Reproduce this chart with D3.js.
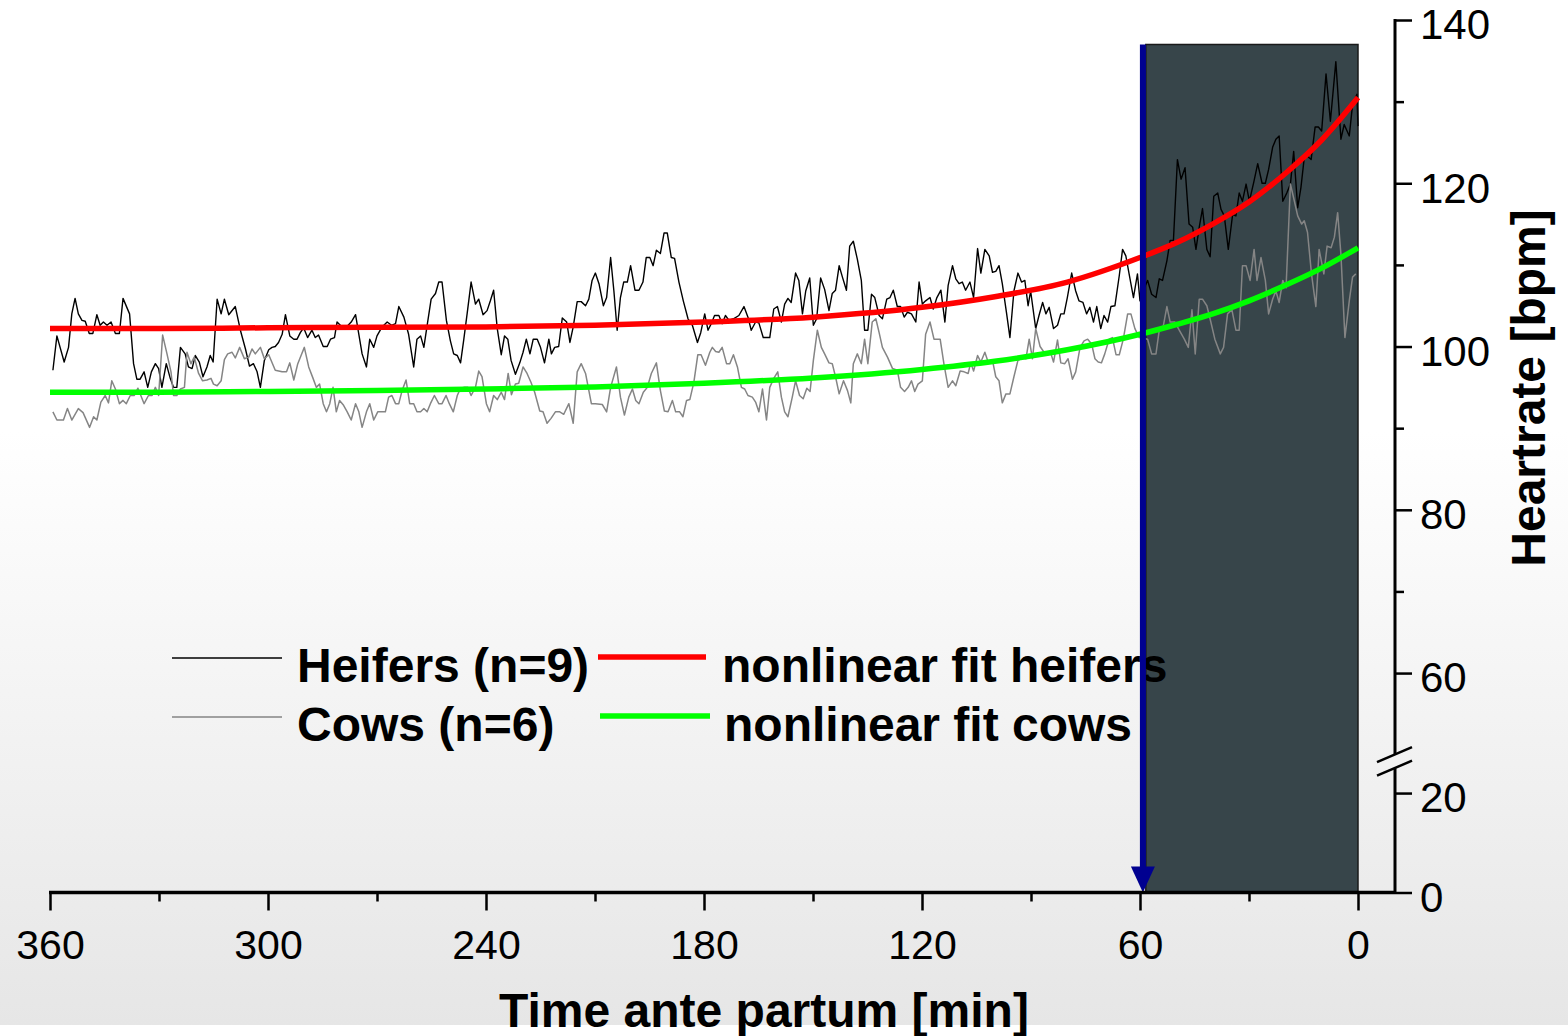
<!DOCTYPE html>
<html><head><meta charset="utf-8">
<script src="https://cdn.jsdelivr.net/npm/d3@7"></script>
<style>body{margin:0;background:#fff}svg{display:block}</style>
</head><body>
<svg id="c" width="1568" height="1036"></svg>
<script>
// ---- data: [minutes ante partum, heart rate bpm] ----
const heifers = [[359.2,97.1],[358.1,101.3],[356.1,98.1],[354.9,99.9],[354.0,104.0],[353.1,105.9],[352.2,104.0],[351.2,103.2],[350.3,103.1],[349.2,101.6],[348.2,101.6],[347.1,103.9],[346.2,102.6],[345.3,103.0],[344.3,102.6],[343.2,103.0],[342.0,101.6],[340.9,101.6],[339.9,105.9],[338.1,104.0],[337.0,97.9],[336.1,96.0],[335.2,96.0],[334.1,96.9],[333.1,95.0],[332.1,96.9],[331.0,97.9],[330.1,97.3],[329.2,95.0],[328.0,97.9],[326.9,96.1],[326.0,95.0],[325.1,95.0],[324.1,99.9],[322.8,99.1],[321.9,97.5],[320.9,97.3],[320.0,98.9],[318.9,98.1],[317.9,96.3],[316.8,97.5],[315.9,98.9],[315.1,98.1],[314.0,105.8],[312.9,104.0],[312.0,105.8],[310.8,103.9],[309.0,104.9],[307.6,102.0],[306.2,99.7],[305.1,97.6],[304.0,97.9],[303.0,96.9],[302.1,95.0],[301.0,98.3],[299.8,99.6],[298.9,99.9],[298.0,100.0],[297.1,100.5],[296.1,101.5],[295.2,103.9],[294.0,101.3],[292.9,100.9],[292.0,100.9],[291.1,101.7],[290.2,102.3],[289.1,101.1],[287.9,102.0],[287.0,101.1],[286.1,101.4],[284.8,100.0],[283.7,100.0],[282.8,100.9],[281.7,101.1],[281.0,103.0],[279.6,102.4],[278.4,102.4],[277.1,103.0],[275.9,103.9],[275.0,101.5],[274.1,99.1],[272.9,97.5],[272.0,100.9],[270.9,99.9],[270.0,101.3],[268.6,102.4],[267.2,103.0],[266.0,102.6],[264.9,102.8],[264.0,104.9],[262.6,103.6],[261.3,101.5],[259.9,97.5],[259.0,100.9],[258.0,101.3],[257.1,99.9],[256.2,102.6],[255.1,105.8],[253.9,106.5],[253.0,107.9],[252.1,107.9],[250.9,103.2],[249.8,100.7],[248.9,99.1],[247.9,98.9],[247.0,98.0],[246.1,100.9],[245.2,104.0],[244.1,107.9],[242.9,105.2],[242.0,105.8],[240.8,103.9],[239.7,104.4],[238.8,105.6],[237.9,106.9],[236.9,102.2],[235.8,99.0],[234.9,101.3],[234.0,100.9],[233.1,98.3],[231.9,96.6],[230.7,98.0],[229.8,99.3],[228.9,100.9],[227.9,99.1],[227.0,100.9],[225.9,100.9],[225.0,99.9],[223.9,98.0],[222.7,100.9],[222.0,99.1],[221.1,99.9],[220.0,100.0],[219.0,103.5],[217.8,103.0],[216.9,100.5],[216.0,102.4],[214.9,105.5],[213.8,105.5],[212.6,105.0],[211.7,105.8],[210.8,108.1],[209.9,109.0],[208.9,107.7],[207.7,105.0],[206.8,106.0],[205.7,110.9],[204.8,106.8],[203.9,102.0],[203.0,106.0],[202.1,107.9],[201.1,107.9],[200.2,109.9],[199.0,106.9],[197.9,106.9],[196.8,107.9],[195.9,110.9],[194.9,110.9],[194.0,109.9],[193.1,111.8],[192.0,111.4],[191.0,113.9],[190.1,113.9],[189.0,110.9],[188.1,110.8],[186.9,107.9],[185.7,105.6],[184.4,103.4],[183.2,102.6],[181.8,100.5],[180.9,101.7],[179.8,104.0],[178.9,102.0],[178.0,102.8],[177.1,103.8],[175.9,103.8],[175.0,102.8],[174.1,103.8],[173.1,103.2],[171.9,103.4],[170.4,103.8],[169.0,104.9],[167.9,103.6],[167.0,102.0],[165.8,103.0],[164.9,102.9],[163.7,101.1],[162.8,101.1],[161.9,101.1],[160.8,104.6],[159.8,104.9],[158.7,103.0],[157.8,105.2],[156.9,105.9],[156.0,105.4],[154.8,109.0],[153.9,108.1],[152.9,104.0],[152.0,106.8],[150.9,108.4],[149.9,102.6],[149.0,103.4],[147.9,108.4],[146.8,107.0],[145.6,104.4],[144.7,106.5],[143.8,106.9],[142.8,109.9],[141.9,108.5],[140.8,106.9],[139.9,112.3],[138.9,112.9],[137.8,110.7],[136.7,108.1],[135.8,102.0],[134.9,102.0],[133.9,106.4],[133.0,106.0],[131.8,103.8],[130.9,103.4],[129.7,105.8],[128.8,106.0],[127.9,106.9],[126.8,104.9],[125.9,104.9],[124.9,103.6],[124.0,104.2],[122.9,104.0],[121.7,103.0],[120.8,107.9],[119.9,105.2],[119.0,105.6],[117.8,106.0],[116.9,104.6],[115.9,106.0],[114.8,106.9],[113.7,103.0],[112.8,107.5],[111.6,109.9],[110.7,108.3],[109.8,107.7],[108.9,107.9],[108.0,106.9],[106.8,107.9],[105.8,106.0],[104.7,112.0],[103.8,109.0],[102.7,111.9],[101.5,111.1],[100.6,109.1],[99.7,109.2],[98.8,109.9],[97.9,107.7],[96.7,104.0],[95.8,101.1],[94.7,106.8],[93.6,109.0],[92.6,107.9],[91.7,108.1],[90.8,105.0],[90.1,106.8],[88.7,102.2],[87.8,103.8],[86.8,105.4],[85.9,104.0],[85.0,104.8],[83.8,102.2],[82.7,102.6],[81.8,104.0],[80.9,104.0],[80.0,106.0],[78.8,109.0],[77.7,106.8],[76.8,105.6],[75.7,105.4],[74.7,104.0],[73.8,104.8],[72.8,103.0],[71.9,104.9],[70.8,102.2],[69.9,103.8],[68.9,103.0],[68.0,104.9],[66.9,105.0],[65.7,108.7],[64.8,111.9],[63.9,111.1],[63.0,108.9],[61.8,106.0],[60.7,108.9],[60.0,105.6],[59.0,107.0],[57.9,108.1],[56.8,106.4],[55.6,106.0],[54.7,108.3],[53.8,108.1],[52.6,110.5],[51.7,113.0],[50.8,113.0],[49.7,122.9],[48.7,120.5],[47.6,121.9],[46.5,115.0],[45.5,114.6],[44.6,111.9],[43.7,114.6],[42.8,116.9],[41.6,111.9],[40.7,111.0],[39.7,118.4],[38.6,118.8],[37.7,116.8],[36.8,116.0],[35.7,111.9],[34.5,116.2],[33.6,116.0],[32.7,118.8],[31.8,117.8],[30.8,119.9],[29.9,117.8],[28.7,120.1],[27.6,122.4],[26.4,120.0],[25.5,120.0],[24.6,121.7],[23.5,124.4],[22.6,125.4],[21.7,125.8],[20.7,117.8],[19.6,118.8],[18.6,119.9],[17.7,123.9],[16.6,117.0],[15.7,119.5],[14.8,123.1],[13.9,123.3],[12.9,122.9],[11.8,126.9],[10.9,126.9],[10.0,126.4],[8.8,133.4],[7.6,127.6],[6.1,134.9],[4.7,125.4],[3.8,127.2],[2.4,125.8],[1.5,129.6],[0.3,130.9],[0.0,127.0]];

const cows = [[359.2,92.0],[358.1,91.0],[356.3,91.0],[355.2,92.4],[354.0,91.0],[352.2,92.4],[350.9,91.9],[349.1,90.1],[348.0,91.4],[347.1,91.0],[346.0,93.2],[344.8,94.0],[343.9,93.1],[343.0,95.8],[342.0,94.8],[340.9,93.0],[339.9,93.4],[339.0,93.0],[337.9,94.0],[336.8,94.0],[335.8,94.9],[334.1,93.0],[332.9,94.0],[331.9,94.0],[331.0,95.0],[330.1,94.0],[329.0,101.4],[327.8,99.1],[326.7,96.9],[326.0,94.0],[325.1,94.0],[324.1,94.8],[323.0,95.0],[322.3,99.3],[321.2,97.9],[320.3,98.7],[319.1,96.7],[318.0,95.8],[316.8,95.9],[315.7,96.1],[315.0,95.4],[314.0,95.2],[312.9,95.8],[312.0,98.4],[311.1,99.1],[309.9,99.3],[309.0,98.6],[307.8,99.9],[306.5,98.5],[305.3,98.7],[304.4,99.7],[303.5,99.1],[302.1,99.9],[301.0,98.5],[299.8,99.0],[298.0,97.1],[296.1,96.9],[294.9,96.9],[294.0,98.0],[292.9,95.9],[291.8,97.9],[290.9,98.9],[290.0,99.9],[288.8,97.5],[287.6,96.1],[286.7,95.0],[285.8,95.4],[284.8,93.0],[283.9,92.0],[283.0,93.0],[282.1,95.0],[281.2,92.0],[280.3,93.4],[279.2,92.8],[278.2,92.0],[277.1,91.0],[275.9,93.0],[275.0,92.0],[274.1,90.1],[272.9,92.0],[272.0,93.0],[270.9,91.0],[269.8,92.0],[268.6,92.0],[267.7,92.0],[266.8,93.8],[265.9,94.0],[264.9,93.0],[264.0,93.0],[263.1,94.6],[262.0,95.9],[261.0,93.0],[259.9,93.0],[259.0,92.0],[258.0,92.0],[257.1,92.4],[256.2,92.0],[255.3,93.0],[254.2,94.0],[253.0,93.0],[252.1,93.0],[251.0,94.0],[250.1,93.0],[249.0,92.0],[247.9,94.0],[247.0,94.9],[245.9,95.0],[245.0,95.0],[244.1,94.0],[242.9,95.0],[242.0,97.0],[241.1,96.3],[239.9,93.0],[239.0,92.0],[237.9,94.0],[236.9,93.5],[235.8,94.4],[234.9,93.5],[233.9,96.7],[233.0,94.1],[231.9,95.4],[231.0,95.5],[229.8,97.5],[228.7,96.7],[227.6,95.6],[226.6,94.4],[225.2,92.1],[224.3,92.0],[223.2,90.6],[222.1,91.2],[220.9,92.0],[219.7,92.0],[218.6,91.7],[217.2,93.0],[216.0,90.6],[214.9,96.9],[213.8,97.9],[212.6,96.7],[211.0,93.0],[209.9,93.0],[208.0,92.9],[206.8,92.0],[205.7,95.0],[204.1,97.5],[203.0,93.8],[201.9,91.6],[200.7,93.8],[199.7,94.8],[198.8,93.4],[197.9,93.0],[196.7,94.4],[195.6,95.0],[194.5,96.7],[193.1,98.0],[192.0,94.6],[190.9,92.1],[189.9,92.0],[188.7,93.4],[187.8,92.0],[186.7,92.0],[185.8,91.4],[184.8,93.4],[183.9,93.5],[182.8,95.6],[181.7,99.0],[180.8,99.0],[179.6,97.7],[178.4,99.3],[177.7,99.9],[176.8,99.4],[175.9,99.3],[175.0,99.9],[173.8,97.9],[172.9,97.9],[171.9,99.0],[170.8,97.5],[169.7,95.0],[168.8,94.8],[167.9,94.0],[166.7,93.8],[165.8,93.2],[164.9,92.0],[163.9,94.8],[162.8,91.0],[161.9,95.0],[160.8,96.1],[159.7,96.9],[158.7,93.8],[157.8,92.0],[156.9,91.4],[155.7,93.8],[154.8,95.8],[153.7,94.0],[152.7,93.6],[151.7,94.9],[150.8,94.5],[149.9,98.3],[148.8,102.0],[147.7,99.9],[146.8,99.1],[145.6,98.0],[144.7,97.9],[143.8,96.3],[142.8,94.2],[141.6,95.8],[140.5,94.6],[139.6,93.1],[138.9,97.9],[137.8,99.1],[136.7,97.9],[135.8,100.9],[134.9,97.9],[133.7,103.0],[132.7,103.4],[131.8,101.7],[130.9,99.9],[129.5,98.7],[128.1,97.3],[126.8,97.1],[125.9,95.0],[124.8,94.5],[123.8,95.0],[122.9,95.8],[122.0,94.5],[121.1,95.4],[119.9,95.8],[119.0,101.5],[117.8,103.0],[116.7,100.9],[115.0,100.9],[113.9,97.7],[112.8,95.0],[111.6,95.8],[110.7,95.2],[109.5,97.0],[108.4,96.9],[107.3,96.7],[106.6,98.0],[105.8,97.0],[104.7,98.9],[103.8,98.1],[102.7,99.3],[101.8,98.1],[100.6,98.3],[99.7,96.3],[98.8,95.8],[97.9,93.1],[96.9,94.2],[95.8,94.2],[94.7,96.3],[93.6,98.3],[92.3,98.6],[91.4,98.5],[90.5,100.9],[89.6,98.5],[88.7,102.2],[87.5,100.0],[86.4,99.3],[85.5,99.0],[84.5,99.1],[83.8,98.1],[82.7,100.8],[81.8,98.0],[80.7,97.9],[79.8,98.5],[78.6,96.0],[77.7,96.9],[76.5,99.9],[75.4,100.7],[74.4,100.9],[73.3,100.3],[72.4,98.5],[71.5,98.1],[70.6,98.0],[69.7,99.1],[68.5,100.9],[67.6,101.1],[66.6,99.0],[65.7,99.0],[64.6,100.9],[63.4,104.0],[62.5,104.0],[61.4,102.2],[60.2,101.1],[59.0,101.0],[57.9,100.9],[56.8,99.1],[55.6,99.1],[54.7,102.0],[53.8,102.0],[52.6,104.9],[51.7,103.0],[50.4,103.0],[49.2,102.0],[47.8,100.9],[46.7,99.9],[45.7,104.5],[44.8,99.1],[43.7,105.8],[42.8,105.8],[41.6,105.0],[40.5,103.0],[39.4,100.9],[37.9,99.1],[37.0,99.9],[35.9,104.0],[34.7,104.5],[33.6,102.0],[32.7,102.0],[31.8,109.9],[30.8,109.9],[29.7,108.1],[28.6,111.9],[27.8,108.1],[26.7,110.9],[25.5,108.1],[24.6,104.0],[23.5,105.8],[22.6,106.8],[21.7,105.4],[20.7,108.1],[19.8,107.2],[18.6,119.9],[17.5,117.8],[16.6,116.0],[15.5,115.0],[14.8,115.4],[13.9,114.0],[12.8,108.9],[11.6,104.9],[10.7,111.9],[9.4,108.9],[8.5,112.3],[7.4,112.1],[6.5,113.4],[5.6,116.4],[4.7,111.3],[3.6,101.1],[2.4,105.6],[1.5,108.5],[0.6,108.9]];

const fitHeifers = [[360,102.2],[330,102.2],[300,102.3],[270,102.35],[240,102.4],[210,102.6],[180,103.0],[150,103.6],[120,104.8],[100,106.1],[80,107.9],[60,110.9],[50,112.7],[40,115.0],[30,117.7],[20,121.2],[10,125.3],[0,130.5]];
const fitCows = [[360,94.4],[330,94.4],[300,94.5],[270,94.6],[240,94.8],[210,95.05],[180,95.5],[150,96.15],[120,97.2],[100,98.2],[80,99.6],[60,101.5],[50,102.7],[40,104.0],[30,105.6],[20,107.5],[10,109.6],[0,112.1]];

const xTicksMajor = [360,300,240,180,120,60,0];
const xTicksMinor = [330,270,210,150,90,30];
const yTicksUpper = [60,80,100,120,140];
const yTicksUpperMinor = [70,90,110,130];
const yTicksLower = [0,20];

const windowStart = 58.4, windowEnd = 0, windowTop = 137;   // shaded interval
const markerTime = 59.2;                                     // arrow

const legendRows = [
  {label:"Heifers (n=9)", fit:"nonlinear fit heifers"},
  {label:"Cows (n=6)", fit:"nonlinear fit cows"}
];
const xTitle = "Time ante partum [min]";
const yTitle = "Heartrate [bpm]";

// ---- drawing ----
const FONT = "'Liberation Sans', Arial, Helvetica, sans-serif";
const svg = d3.select("#c");

const defs = svg.append("defs");
const grad = defs.append("linearGradient").attr("id","bg").attr("x1",0).attr("y1",0).attr("x2",0).attr("y2",1);
grad.append("stop").attr("offset","0").attr("stop-color","#ffffff");
grad.append("stop").attr("offset","0.42").attr("stop-color","#ffffff");
grad.append("stop").attr("offset","1").attr("stop-color","#e6e6e6");
svg.append("rect").attr("x",0).attr("y",0).attr("width",1568).attr("height",1025).attr("fill","url(#bg)");

const x = d3.scaleLinear().domain([360,0]).range([50,1358]);
const yUp = d3.scaleLinear().domain([50,140]).range([754.7,20]);
const yLo = d3.scaleLinear().domain([0,25]).range([892.5,768.2]);
const y = v => v >= 40 ? yUp(v) : yLo(v);
const axisX = 1395, axisY = yLo(0);

// shaded window
svg.append("rect")
  .attr("x", x(windowStart)).attr("y", y(windowTop))
  .attr("width", x(windowEnd) - x(windowStart)).attr("height", axisY - y(windowTop))
  .attr("fill","#37454a").attr("stroke","#1a1a1a").attr("stroke-width",1.5);

const line = d3.line().x(d => x(d[0])).y(d => y(d[1]));
const smooth = d3.line().x(d => x(d[0])).y(d => y(d[1])).curve(d3.curveMonotoneX);

svg.append("path").datum(heifers).attr("d", line).attr("fill","none").attr("stroke","#000").attr("stroke-width",1.4).attr("stroke-linejoin","round");
svg.append("path").datum(cows).attr("d", line).attr("fill","none").attr("stroke","#858585").attr("stroke-width",1.5).attr("stroke-linejoin","round");
svg.append("path").datum(fitHeifers).attr("d", smooth).attr("fill","none").attr("stroke","#ff0000").attr("stroke-width",5.5);
svg.append("path").datum(fitCows).attr("d", smooth).attr("fill","none").attr("stroke","#00ff00").attr("stroke-width",5.5);

// legend
const lg = svg.append("g").attr("font-family",FONT).attr("font-weight","bold").attr("font-size",48).attr("fill","#000");
const rowY = [658, 717], baseY = [682, 741];
const dataColors = ["#000","#858585"], fitColors = ["#ff0000","#00ff00"];
legendRows.forEach((r,i) => {
  lg.append("line").attr("x1",172).attr("x2",282).attr("y1",rowY[i]).attr("y2",rowY[i]).attr("stroke",dataColors[i]).attr("stroke-width",1.5);
  lg.append("text").attr("x",297).attr("y",baseY[i]).text(r.label);
  lg.append("line").attr("x1",598+2*i).attr("x2",706+4*i).attr("y1",rowY[i]-1).attr("y2",rowY[i]-1).attr("stroke",fitColors[i]).attr("stroke-width",5.5);
  lg.append("text").attr("x",722+2*i).attr("y",baseY[i]).text(r.fit);
});

// arrow
const ax = x(markerTime);
svg.append("line").attr("x1",ax).attr("x2",ax).attr("y1",y(windowTop)).attr("y2",axisY-24)
  .attr("stroke","#000090").attr("stroke-width",6);
svg.append("path").attr("d",`M${ax-12},${axisY-26} L${ax+12},${axisY-26} L${ax},${axisY} Z`).attr("fill","#000090");

// x axis
const gx = svg.append("g").attr("transform",`translate(0,${axisY})`);
gx.call(d3.axisBottom(x).tickValues(xTicksMajor).tickSize(18).tickPadding(19).tickFormat(d3.format("d")));
gx.select(".domain").remove();
gx.selectAll(".tick line").attr("stroke","#000").attr("stroke-width",2.5);
gx.selectAll(".tick text").attr("font-family",FONT).attr("font-size",41).attr("fill","#000");
const gxm = svg.append("g").attr("transform",`translate(0,${axisY})`);
gxm.call(d3.axisBottom(x).tickValues(xTicksMinor).tickSize(9).tickFormat(""));
gxm.select(".domain").remove();
gxm.selectAll(".tick line").attr("stroke","#000").attr("stroke-width",2.5);
svg.append("line").attr("x1",x(360)-1).attr("x2",axisX).attr("y1",axisY).attr("y2",axisY).attr("stroke","#000").attr("stroke-width",3.5);

// y axis (broken)
function yAxisPart(scale, ticks, size, labels){
  const g = svg.append("g").attr("transform",`translate(${axisX},0)`);
  const a = d3.axisRight(scale).tickValues(ticks).tickSize(size).tickPadding(8);
  a.tickFormat(labels ? d3.format("d") : "");
  g.call(a);
  g.select(".domain").remove();
  g.selectAll(".tick line").attr("stroke","#000").attr("stroke-width",2.5);
  g.selectAll(".tick text").attr("font-family",FONT).attr("font-size",42).attr("fill","#000").attr("dy","0.45em");
}
yAxisPart(yUp, yTicksUpper, 17, true);
yAxisPart(yUp, yTicksUpperMinor, 9, false);
yAxisPart(yLo, yTicksLower, 17, true);
svg.append("line").attr("x1",axisX).attr("x2",axisX).attr("y1",yUp(140)-1).attr("y2",yUp(50)).attr("stroke","#000").attr("stroke-width",3);
svg.append("line").attr("x1",axisX).attr("x2",axisX).attr("y1",yLo(25)).attr("y2",axisY+1.5).attr("stroke","#000").attr("stroke-width",3);
[yUp(50), yLo(25)].forEach(by => {
  svg.append("line").attr("x1",axisX-18).attr("x2",axisX+17).attr("y1",by+7.5).attr("y2",by-7.5)
    .attr("stroke","#000").attr("stroke-width",2.5);
});

// titles
svg.append("text").attr("x",764).attr("y",1027).attr("text-anchor","middle")
  .attr("font-family",FONT).attr("font-weight","bold").attr("font-size",48).text(xTitle);
svg.append("text").attr("transform","translate(1545,388) rotate(-90)").attr("text-anchor","middle")
  .attr("font-family",FONT).attr("font-weight","bold").attr("font-size",48).text(yTitle);
</script>
</body></html>
